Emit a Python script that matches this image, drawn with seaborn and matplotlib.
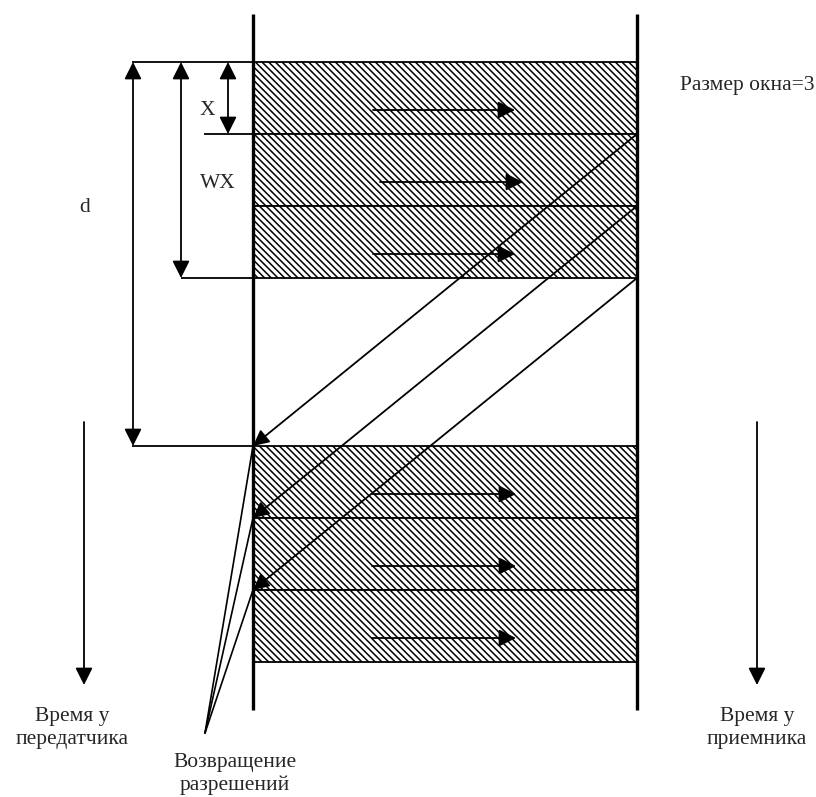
import matplotlib
matplotlib.use("Agg")
import matplotlib.pyplot as plt
import seaborn as sns
from matplotlib.patches import Rectangle

# --- diagram data (time axis runs downward, units = pixels of the drawing) ---
WINDOW = 3
FRAME_LEN = 72                      # X: transmission time of one frame
send_starts = [62, 134, 206]        # frames of the first window
resume_starts = [446, 518, 590]     # frames sent after permissions return
ack_sent = [134, 206, 278]          # receiver returns permission at frame end
ack_back = [446, 518, 590]          # permission arrives at the sender
top_arrow_span = [(373, 515), (380, 523), (373, 515)]
low_arrow_span = [(372, 516), (372, 516), (372, 516)]
fan_root = (205, 733)

SENDER_X = 253
RECEIVER_X = 637
TIMELINE = (14, 710)

labels = {
    "window": "Размер окна=3",
    "x": "X",
    "wx": "WX",
    "d": "d",
    "sender": "Время у\nпередатчика",
    "receiver": "Время у\nприемника",
    "acks": "Возвращение\nразрешений",
}

sns.set_theme(style="white")
plt.rcParams["font.family"] = ["Liberation Serif", "DejaVu Serif"]
plt.rcParams["hatch.linewidth"] = 1.1
plt.rcParams["hatch.color"] = "black"

fig = plt.figure(figsize=(8.16, 7.97), dpi=100)
ax = fig.add_axes([0, 0, 1, 1])
ax.set_xlim(0, 816)
ax.set_ylim(797, 0)
ax.axis("off")

FS = 15.5


def arrow(x0, y0, x1, y1, style="-|>", ms=26, lw=1.3):
    ax.annotate("", xy=(x1, y1), xytext=(x0, y0),
                arrowprops=dict(arrowstyle=f"{style},head_length=0.4,head_width=0.2",
                                mutation_scale=ms, lw=lw, color="black",
                                shrinkA=0, shrinkB=0))


# hatched frames
for starts, spans in [(send_starts, top_arrow_span), (resume_starts, low_arrow_span)]:
    for y, (a, b) in zip(starts, spans):
        ax.add_patch(Rectangle((SENDER_X, y), RECEIVER_X - SENDER_X, FRAME_LEN,
                               facecolor="white", edgecolor="black", lw=1.3,
                               hatch="\\" * 5, zorder=1))
        arrow(a, y + 48, b, y + 48)

# timelines
ax.vlines([SENDER_X, RECEIVER_X], *TIMELINE, color="black", lw=2.4, zorder=3)

# permissions going back
for y0, y1 in zip(ack_sent, ack_back):
    arrow(RECEIVER_X, y0, SENDER_X, y1, ms=24)
for y1 in ack_back:
    ax.plot([fan_root[0], SENDER_X], [fan_root[1], y1], color="black", lw=1.2)

# dimension lines
t0 = send_starts[0]
ax.hlines(t0, 132, SENDER_X, color="black", lw=1.3)
ax.hlines(t0 + FRAME_LEN, 204, SENDER_X, color="black", lw=1.3)
ax.hlines(t0 + WINDOW * FRAME_LEN, 181, SENDER_X, color="black", lw=1.3)
ax.hlines(resume_starts[0], 132, SENDER_X, color="black", lw=1.3)
arrow(228, t0, 228, t0 + FRAME_LEN, style="<|-|>")
arrow(181, t0, 181, t0 + WINDOW * FRAME_LEN, style="<|-|>")
arrow(133, t0, 133, resume_starts[0], style="<|-|>")

# time direction arrows
arrow(84, 422, 84, 685)
arrow(757, 422, 757, 685)

# texts
ax.text(680, 85, labels["window"], ha="left", va="center", fontsize=FS)
ax.text(207, 110, labels["x"], ha="center", va="center", fontsize=FS)
ax.text(218, 183, labels["wx"], ha="center", va="center", fontsize=FS)
ax.text(85, 207, labels["d"], ha="center", va="center", fontsize=FS)
ax.text(72, 728, labels["sender"], ha="center", va="center", fontsize=FS,
        linespacing=1.3)
ax.text(757, 728, labels["receiver"], ha="center", va="center", fontsize=FS,
        linespacing=1.3)
ax.text(235, 774, labels["acks"], ha="center", va="center", fontsize=FS,
        linespacing=1.3)

fig.savefig("out.png", dpi=100)
